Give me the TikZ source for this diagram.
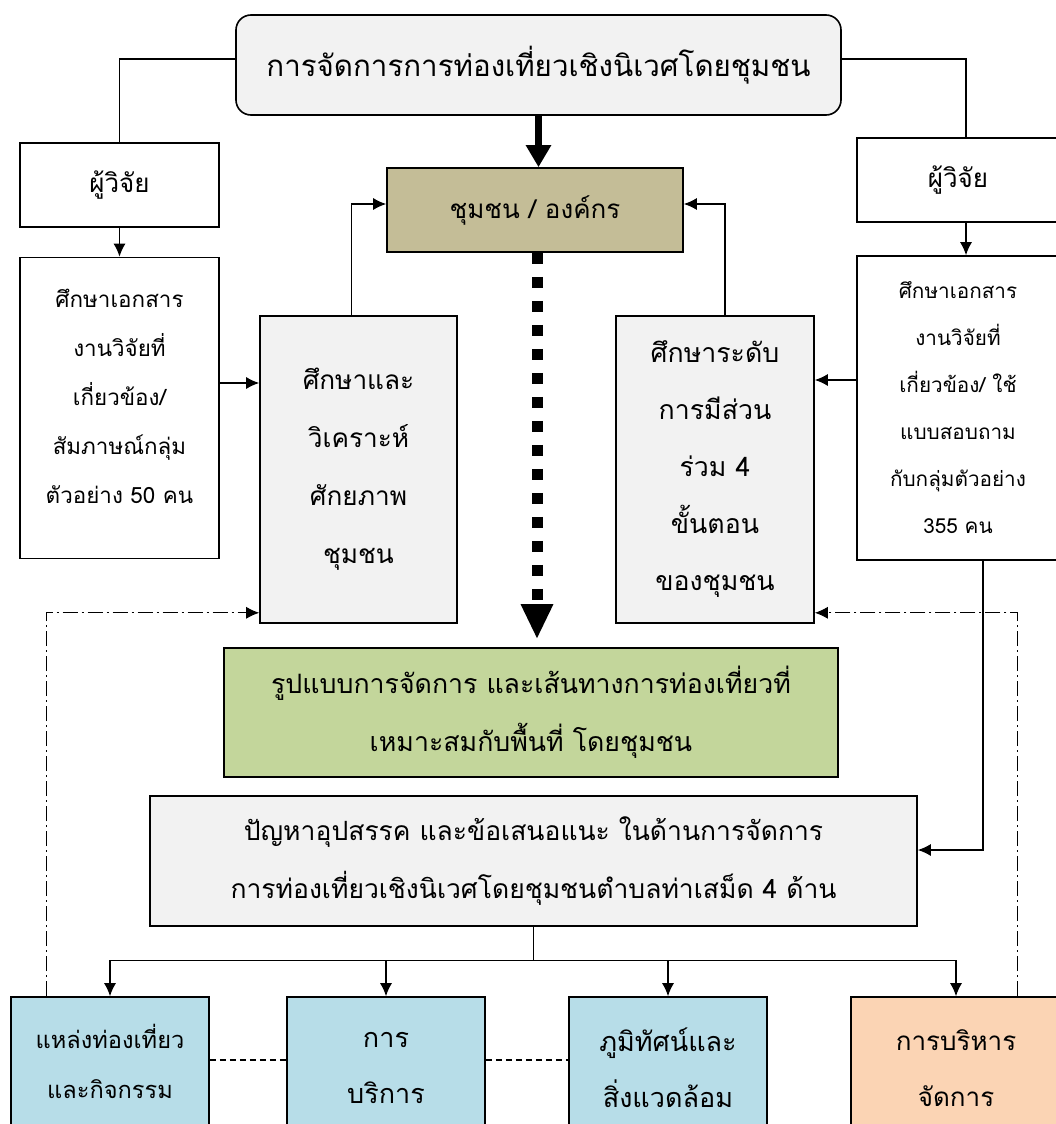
\documentclass[tikz,border=0pt]{standalone}
\usepackage{fontspec}
\setmainfont[Script=Thai]{Loma}
\usepackage{tikz}
\usetikzlibrary{arrows.meta}
\definecolor{boxgray}{HTML}{F2F2F2}
\definecolor{commtan}{HTML}{C4BD97}
\definecolor{modelgreen}{HTML}{C3D69B}
\definecolor{sideblue}{HTML}{B7DDE8}
\definecolor{sideorange}{HTML}{FBD4B4}

\begin{document}
\begin{tikzpicture}[x=1pt,y=-1pt,
  box/.style={draw,line width=1.6pt,align=center,inner sep=0pt},
  link/.style={line width=1.3pt},
  dashdot/.style={line width=1pt,dash pattern=on 15pt off 4pt on 2pt off 4pt},
  >={Latex[length=13pt,width=12pt]}]
\useasboundingbox (0,0) rectangle (1055,1124);

% top
\node[box,fill=boxgray,rounded corners=15pt,minimum width=605pt,minimum height=100pt,font=\fontsize{29.5}{34}\selectfont] (title) at (538.5,65) {การจัดการการท่องเที่ยวเชิงนิเวศโดยชุมชน};
\node[box,fill=commtan,minimum width=296pt,minimum height=84pt,font=\fontsize{26}{30}\selectfont] (chumchon) at (535,210) {ชุมชน / องค์กร};

% left side
\node[box,minimum width=199pt,minimum height=84pt,font=\fontsize{26}{30}\selectfont] (lres) at (119.5,185) {ผู้วิจัย};
\node[box,minimum width=199pt,minimum height=301pt,font=\fontsize{22.4}{49}\selectfont] (lstudy) at (119.5,408) {ศึกษาเอกสาร\\งานวิจัยที่\\เกี่ยวข้อง/\\สัมภาษณ์กลุ่ม\\ตัวอย่าง 50 คน\\[-25pt]\mbox{}};
\node[box,fill=boxgray,minimum width=197pt,minimum height=307pt,font=\fontsize{26.2}{58}\selectfont] (analysis) at (358.5,469.5) {ศึกษาและ\\วิเคราะห์\\ศักยภาพ\\ชุมชน};

% right side
\node[box,minimum width=202pt,minimum height=84pt,font=\fontsize{26}{30}\selectfont] (rres) at (958,180) {ผู้วิจัย};
\node[box,minimum width=202pt,minimum height=304pt,font=\fontsize{20.7}{47}\selectfont] (rstudy) at (958,408) {ศึกษาเอกสาร\\งานวิจัยที่\\เกี่ยวข้อง/ ใช้\\แบบสอบถาม\\กับกลุ่มตัวอย่าง\\355 คน};
\node[box,fill=boxgray,minimum width=198pt,minimum height=307pt,font=\fontsize{26.7}{57}\selectfont] (part) at (715,469.5) {ศึกษาระดับ\\การมีส่วน\\ร่วม 4\\ขั้นตอน\\ของชุมชน};

% results
\node[box,fill=modelgreen,minimum width=614pt,minimum height=129pt,font=\fontsize{26.7}{58}\selectfont] (model) at (531,712.5) {รูปแบบการจัดการ และเส้นทางการท่องเที่ยวที่\\เหมาะสมกับพื้นที่ โดยชุมชน};
\node[box,fill=boxgray,minimum width=767pt,minimum height=130pt,font=\fontsize{26.5}{58}\selectfont] (problem) at (533.5,861) {ปัญหาอุปสรรค และข้อเสนอแนะ ในด้านการจัดการ\\การท่องเที่ยวเชิงนิเวศโดยชุมชนตำบลท่าเสม็ด 4 ด้าน};

% four sides
\node[box,fill=sideblue,minimum width=198pt,minimum height=142pt,font=\fontsize{23.6}{50}\selectfont] (place) at (110,1068) {แหล่งท่องเที่ยว\\และกิจกรรม\\[-36pt]\mbox{}};
\node[box,fill=sideblue,minimum width=198pt,minimum height=142pt,font=\fontsize{27}{56}\selectfont] (service) at (386,1068) {การ\\บริการ};
\node[box,fill=sideblue,minimum width=198pt,minimum height=142pt,font=\fontsize{27}{56}\selectfont] (scene) at (668,1068) {ภูมิทัศน์และ\\สิ่งแวดล้อม};
\node[box,fill=sideorange,minimum width=210pt,minimum height=142pt,font=\fontsize{26}{56}\selectfont] (admin) at (956,1068) {การบริหาร\\จัดการ};

% connectors
\draw[link] ([yshift=6pt]title.west) -| (lres.north);
\draw[link,->] (lres.south) -- (lstudy.north);
\coordinate (lmid) at ([yshift=25pt]lstudy.east);
\draw[link,->] (lmid) -- (lmid -| analysis.west);
\draw[link,->] ([xshift=-7pt]analysis.north) |- ([yshift=6pt]chumchon.west);

\draw[link] ([yshift=6pt]title.east) -| ([xshift=8pt]rres.north);
\draw[link,->] ([xshift=8pt]rres.south) -- ([xshift=8pt]rstudy.north);
\coordinate (rmid) at ([yshift=28pt]rstudy.west);
\draw[link,->] (rmid) -- (rmid -| part.east);
\draw[link,->] ([xshift=10pt]part.north) |- ([yshift=6pt]chumchon.east);
\draw[link,->] ([xshift=25pt]rstudy.south) |- ([yshift=11pt]problem.east);

\draw[line width=6.5pt,-{Triangle[length=22pt,width=24pt]}] (title.south) -- (title.south |- chumchon.north);
\draw[line width=11pt,dash pattern=on 11pt off 13pt,-{Triangle[length=35pt,width=30pt]},shorten >=8pt] ([xshift=2pt]chumchon.south) -- ([xshift=2pt]chumchon.south |- model.north);

\draw[dashdot,->] ([xshift=-64pt]place.north) |- ([yshift=11pt]analysis.south west);
\draw[dashdot,->] ([xshift=61pt]admin.north) |- ([yshift=11pt]part.south east);

\coordinate (split) at ([yshift=-34pt]problem.south);
\draw[link] (problem.south) -- (split);
\foreach \side in {place,service,scene,admin}
  \draw[link,->] (split) -| (\side.north);

\draw[link,dash pattern=on 6pt off 4pt] ([yshift=8pt]place.east) -- ([yshift=8pt]service.west);
\draw[link,dash pattern=on 6pt off 4pt] ([yshift=8pt]service.east) -- ([yshift=8pt]scene.west);
\end{tikzpicture}
\end{document}
